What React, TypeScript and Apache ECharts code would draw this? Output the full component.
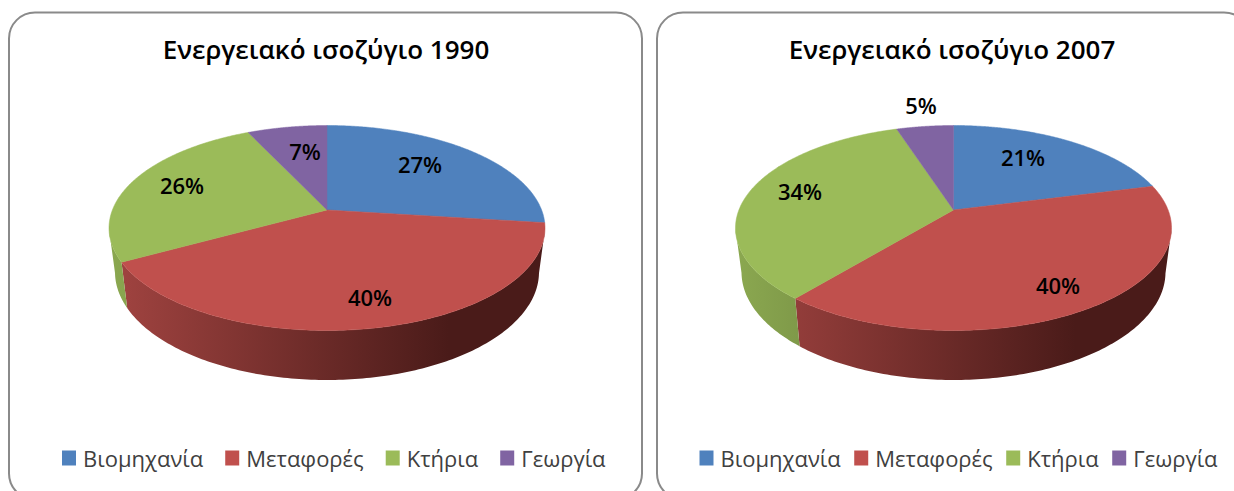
import React, { useEffect, useRef } from "react";
import * as echarts from "echarts";

const categories = ["Βιομηχανία", "Μεταφορές", "Κτήρια", "Γεωργία"];
const values1990 = [27, 40, 26, 7];
const values2007 = [21, 40, 34, 5];
const titles = ["Ενεργειακό ισοζύγιο 1990", "Ενεργειακό ισοζύγιο 2007"];
const colors = ["#4F81BD", "#C0504D", "#9BBB59", "#8064A2"];
const wallColors = [
  ["#456FA3", "#1F3350"],
  ["#A24441", "#4A1B19"],
  ["#8BA850", "#4C5C2B"],
  ["#6F5790", "#3A2D4C"],
];

const FONT = "Open Sans";
const layouts = [
  {
    cx: 327, values: values1990, panelX: 9, panelW: 633, titleX: 321, legendLeft: 57, legendGap: 22,
    labels: [[420, 164], [370, 297], [182, 185], [305, 151]],
  },
  {
    cx: 953.5, values: values2007, panelX: 657, panelW: 593, titleX: 947, legendLeft: 694.5, legendGap: 13.5,
    labels: [[1023, 157], [1058, 285], [800, 191], [921, 105]],
  },
];
const TOP = { rx: 218, ry: 102.5, cy: 228 };
const BOTTOM = { rx: 212, ry: 108, cy: 272 };
const TILT = 0.176;

// Perspective map of a disc angle (clockwise from 12 o'clock) onto the unit circle of the ellipse.
function project(theta: number) {
  const u = Math.sin(theta);
  const v = Math.cos(theta);
  const w = 1 + TILT * v;
  return { X: (Math.sqrt(1 - TILT * TILT) * u) / w, S: (-v - TILT) / w };
}

function sliceRenderer(cx: number, values: number[], index: number, labelPos: number[]) {
  const total = values.reduce((a, b) => a + b, 0);
  const before = values.slice(0, index).reduce((a, b) => a + b, 0);
  return (_params: any, api: any) => {
    const value = api.value(0);
    const a0 = (before / total) * Math.PI * 2;
    const a1 = ((before + value) / total) * Math.PI * 2;
    const steps = 160;
    const arc: { X: number; S: number }[] = [];
    for (let i = 0; i <= steps; i++) arc.push(project(a0 + ((a1 - a0) * i) / steps));
    const pt = (p: { X: number; S: number }, e: typeof TOP) => [cx + e.rx * p.X, e.cy + e.ry * p.S];
    const apex = [cx, TOP.cy + TOP.ry * -TILT];
    const children: any[] = [];
    const front = arc.filter((p) => p.S >= 0);
    if (front.length > 1) {
      const x1 = cx - TOP.rx;
      const x2 = cx + TOP.rx;
      children.push({
        type: "polygon",
        z2: 1,
        shape: { points: [...front.map((p) => pt(p, TOP)), ...[...front].reverse().map((p) => pt(p, BOTTOM))] },
        style: {
          fill: new echarts.graphic.LinearGradient(
            x1, 0, x2, 0,
            [
              { offset: 0, color: wallColors[index][0] },
              { offset: 0.78, color: wallColors[index][1] },
              { offset: 1, color: wallColors[index][1] },
            ],
            true
          ),
        },
      });
    }
    children.push({
      type: "polygon",
      z2: 2,
      shape: { points: [apex, ...arc.map((p) => pt(p, TOP))] },
      style: { fill: colors[index], stroke: colors[index], lineWidth: 0.5 },
    });
    children.push({
      type: "text",
      z2: 3,
      x: labelPos[0],
      y: labelPos[1],
      style: {
        text: `${value}%`,
        align: "center",
        verticalAlign: "middle",
        fontFamily: FONT,
        fontWeight: 600,
        fontSize: 22,
        fill: "#000000",
      },
    });
    return { type: "group", children };
  };
}

export default function App() {
  const ref = useRef<HTMLDivElement>(null);
  useEffect(() => {
    const chart = echarts.init(ref.current!, undefined, { renderer: "svg" });
    const series: any[] = [];
    layouts.forEach((l) => {
      l.values.forEach((v, i) => {
        series.push({
          type: "custom",
          name: categories[i],
          coordinateSystem: "none",
          silent: true,
          itemStyle: { color: colors[i] },
          data: [[v]],
          renderItem: sliceRenderer(l.cx, l.values, i, l.labels[i]),
        });
      });
    });
    chart.setOption({
      animation: false,
      backgroundColor: "#ffffff",
      title: layouts.map((l, i) => ({
        text: titles[i],
        left: l.titleX,
        top: 31,
        textAlign: "center",
        textStyle: { fontFamily: FONT, fontWeight: 600, fontSize: 26, color: "#000000" },
      })),
      legend: layouts.map((l) => ({
        data: categories,
        left: l.legendLeft,
        top: 442,
        icon: "rect",
        itemWidth: 14,
        itemHeight: 15,
        itemGap: l.legendGap,
        selectedMode: false,
        textStyle: { fontFamily: FONT, fontSize: 22, color: "#404040", padding: [0, 0, 0, 2] },
      })),
      graphic: layouts.map((l) => ({
        type: "rect",
        silent: true,
        z: -1,
        shape: { x: l.panelX, y: 12.5, width: l.panelW, height: 487, r: 26 },
        style: { fill: "#ffffff", stroke: "#8a8a8a", lineWidth: 2 },
      })),
      series,
    });
    return () => chart.dispose();
  }, []);
  return <div ref={ref} style={{ position: "fixed", left: 0, top: 0, width: 1234, height: 491 }} />;
}
